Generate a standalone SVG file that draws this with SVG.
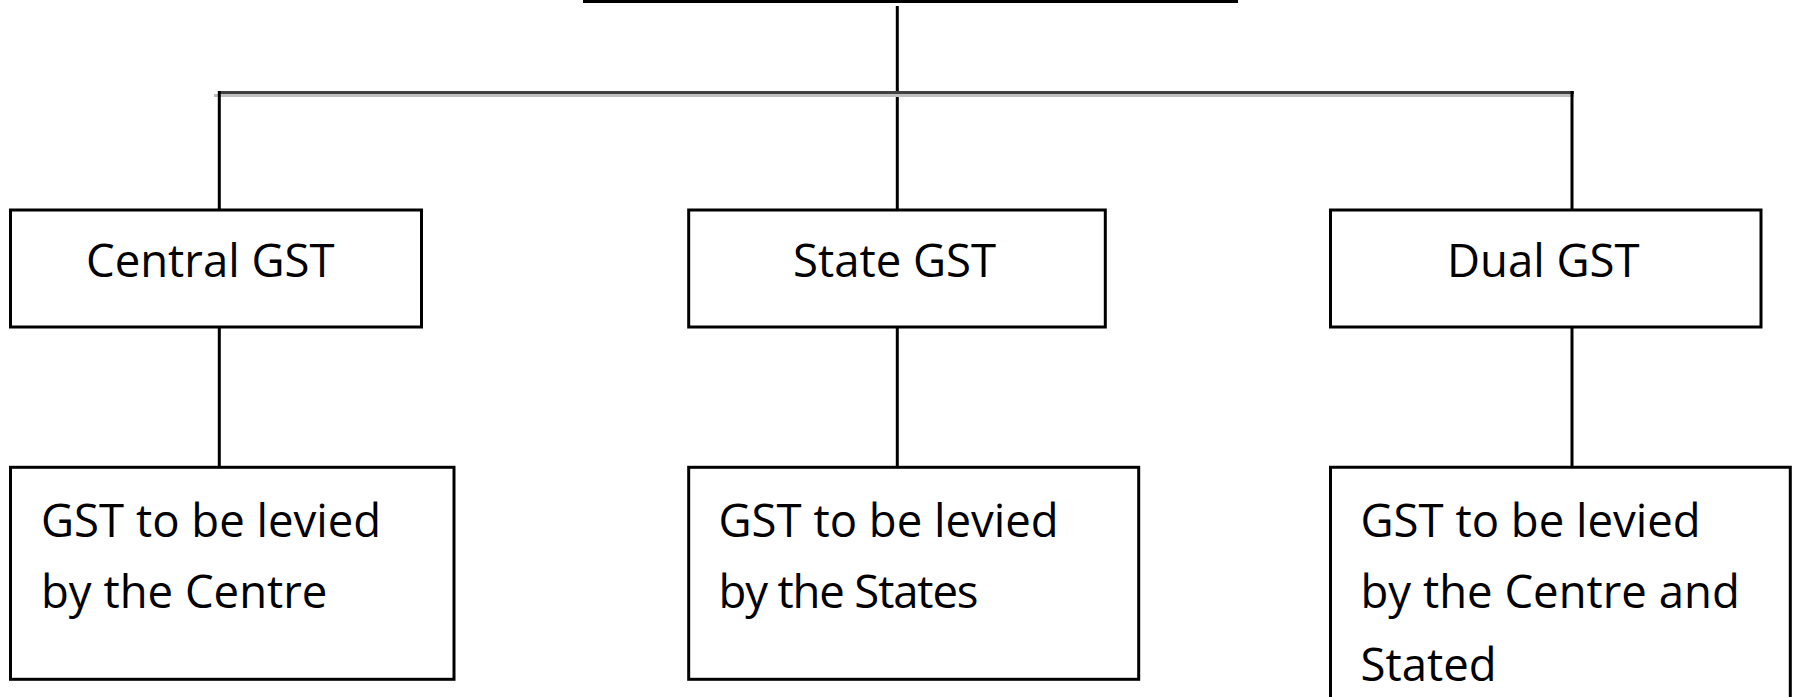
<svg xmlns="http://www.w3.org/2000/svg" width="1798" height="697" viewBox="0 0 1798 697">
<style>
.box{fill:#fff;stroke:#000;stroke-width:3}
.ln{stroke:#000;stroke-width:3;fill:none}
text{font-family:"Open Sans","Noto Sans",sans-serif;font-size:45.5px;fill:#000}
</style>
<rect width="1798" height="697" fill="#fff"/>
<g id="connectors">
<rect x="583" y="0" width="655" height="3" fill="#000"/>
<line class="ln" x1="897.3" y1="6" x2="897.3" y2="209"/>
<rect x="214" y="94" width="1360" height="3" fill="#c0c0c0"/>
<rect x="218" y="91" width="1356" height="3" fill="#404040"/>
<line class="ln" x1="219.3" y1="91" x2="219.3" y2="209"/>
<line class="ln" x1="1572" y1="91" x2="1572" y2="209"/>
<line class="ln" x1="219.3" y1="327" x2="219.3" y2="467"/>
<line class="ln" x1="897.3" y1="327" x2="897.3" y2="467"/>
<line class="ln" x1="1572" y1="327" x2="1572" y2="467"/>
</g>
<g id="central-gst">
<rect class="box" x="10.5" y="210" width="411" height="117"/>
<text x="86" y="276.7">Central GST</text>
</g>
<g id="state-gst">
<rect class="box" x="688.7" y="210" width="416.6" height="117"/>
<text x="793" y="276.7">State GST</text>
</g>
<g id="dual-gst">
<rect class="box" x="1330.5" y="210" width="430.5" height="117"/>
<text x="1447" y="276.7">Dual GST</text>
</g>
<g id="central-desc">
<rect class="box" x="10.5" y="467.3" width="443.5" height="212"/>
<text x="41" y="536.7">GST to be levied</text>
<text x="41" y="608.3">by the Centre</text>
</g>
<g id="state-desc">
<rect class="box" x="688.7" y="467.3" width="450" height="212"/>
<text x="718.5" y="536.7">GST to be levied</text>
<text x="718.5" y="608.3" textLength="260" lengthAdjust="spacing">by the States</text>
</g>
<g id="dual-desc">
<path class="ln" d="M1330.5 700 V467.3 H1790.3 V700"/>
<text x="1360.5" y="536.7">GST to be levied</text>
<text x="1360.5" y="608.3">by the Centre and</text>
<text x="1360.5" y="680.7">Stated</text>
</g>
</svg>
